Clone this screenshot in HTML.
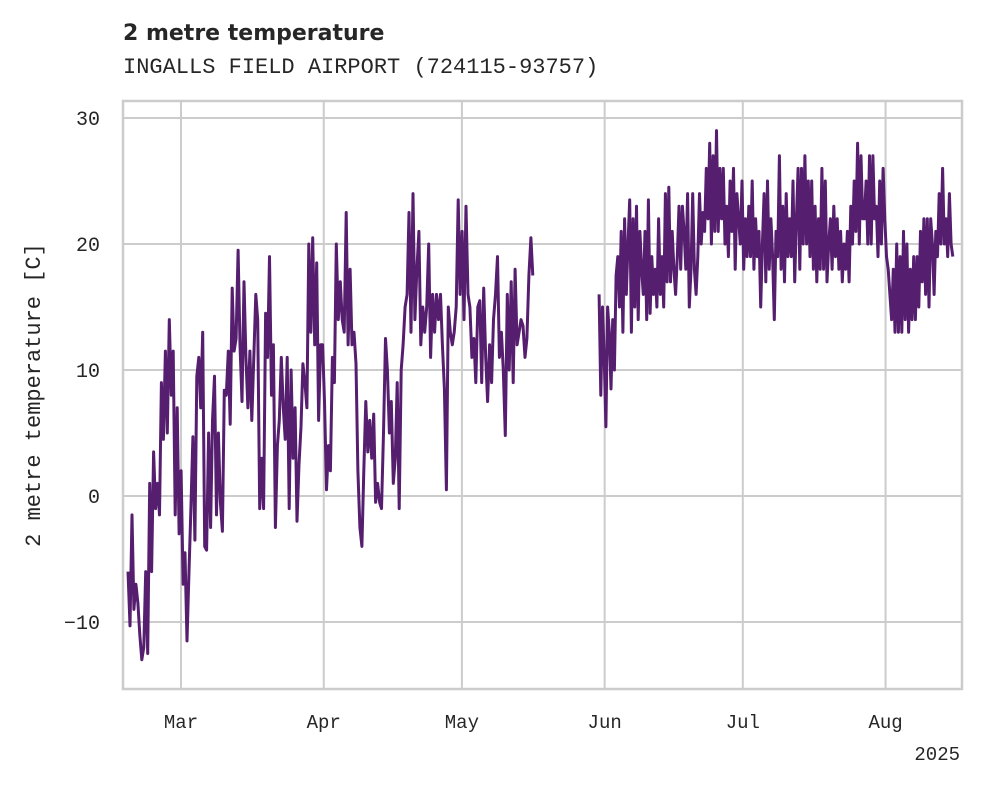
<!DOCTYPE html>
<html><head><meta charset="utf-8"><style>
body{margin:0;background:#fff;}
svg{display:block;}
</style></head><body>
<svg id="chart" width="981" height="785" xmlns="http://www.w3.org/2000/svg">
<text x="123" y="40" font-family="DejaVu Sans, Liberation Sans, sans-serif" font-weight="bold" font-size="22" fill="#262626">2 metre temperature</text>
<text x="123" y="73" font-family="Liberation Mono, DejaVu Sans Mono, monospace" font-size="22" fill="#262626">INGALLS FIELD AIRPORT (724115-93757)</text>
<g id="grid"></g>
<g id="series"></g>
<rect x="123" y="101" width="839" height="588" fill="none" stroke="#cccccc" stroke-width="2.5"/>
<g id="ticks"></g>
<text transform="translate(40,395) rotate(-90)" text-anchor="middle" font-family="Liberation Mono, DejaVu Sans Mono, monospace" font-size="22" fill="#262626">2 metre temperature [C]</text>
<text x="960" y="760" text-anchor="end" font-family="Liberation Mono, DejaVu Sans Mono, monospace" font-size="19" fill="#262626">2025</text>
</svg>
<script>
const yTicks=[30,20,10,0,-10];
const xTickLabels=["Mar","Apr","May","Jun","Jul","Aug"];
const xTickDays=[0,31,61,92,122,153];
const seg1Start=-11.5, seg1End=76.4;
const seg2Start=90.8, seg2End=167.6;
const values1=[-6,-10.3,-1.5,-9,-7,-8.5,-11,-13,-12,-6,-12.5,1,-6,3.5,-1,1,-1.5,9,4.5,11.5,5,14,8,11.5,-1.5,7,-3,2,-7,-4.5,-11.5,-6,-1,4.7,-3.5,9.5,11,7,13,-4,-4.3,5,-2.5,6,9.5,-1.5,5,-0.5,-2.8,8.4,8,11.5,5.7,16.5,11.5,12.5,19.5,12,7.5,17,11,7,11.5,6,11,16,14,-1,3,-1,14.5,11,19,8,12,-2.5,4,6,11,7,4.5,11,-1,10,3,7,-2,2.5,5.5,10.5,9,7,20,13,20.5,12,18.5,6,12,12,7.5,0.5,4,2,11,9,20,14,17,14,13,22.5,12,18,12,13,10.5,2,-2.5,-4,2,7.5,3.5,6,3,6.5,-0.5,1,-0.5,-1,5,12.5,10,5,7.5,1,3,9,-1,10,12,15,16,22.5,13,24,14,18,21,12,15,13,15,20,11,16,13,16,14,16,12,8.5,0.5,15,13,12,13,15,23.5,16,21,14,23,16,15,11,12.5,9,15,15.5,9,16.5,11,7.5,12,9,14,16,19,11,13,10,4.8,16,10,17,9,18,12,13,14,13.5,11,12.5,17.5,20.5,17.5];
const values2=[16,8,15,11,5.5,15,13,8.5,14,10,17.5,19,15,21,13,22,16,20,23.5,13,22,15,23,14,21,18,16,21,14,23.5,14.5,19,16,18,15,22,16,19,15,24,17,24.5,17,21,18,16,19,23,18,23,21,18,24,15,18,24,18,16,19,24,20,22.5,21,26,22,28,20,27,21,29,21,26,22,26,20,23,19,25,21,26,18,24,22,20,25,18,22,19,23,19,25,18,22,19,21,15,20,24,17,25,18,22,19,14,21,19,27,18,23,17,24,19,22,19,25,17,22,26,18,26,20,27,20,25,19,25,18,23,17,22,18,26,18,25,17,20,22,18,23,19,22,18,21,17,20,18,21,17,23,20,25,21,28,20,27,22,22,25,20,27,20,27,22,23,19,25,20,26,22,19,18,16,14,18,13,20,13,19,13,21,14,20,13,18,14,19,14,19,15,21,17,22,16,22,15,22,20,16,21,19,24,20,26,20,22,19,24,20,19];
const NS='http://www.w3.org/2000/svg';
const L=123,R=962,T=101,B=689;
function xScale(d){return 181+d*4.605;}
function yScale(v){return 496-v*12.6;}
const grid=document.getElementById('grid');
const ticks=document.getElementById('ticks');
yTicks.forEach(v=>{
  const ln=document.createElementNS(NS,'line');
  ln.setAttribute('x1',L);ln.setAttribute('x2',R);ln.setAttribute('y1',yScale(v));ln.setAttribute('y2',yScale(v));
  ln.setAttribute('stroke','#cccccc');ln.setAttribute('stroke-width','2');
  
  
  grid.appendChild(ln);
  const t=document.createElementNS(NS,'text');
  t.setAttribute('x',100);t.setAttribute('y',yScale(v)+7);t.setAttribute('text-anchor','end');
  t.setAttribute('font-family','Liberation Mono, DejaVu Sans Mono, monospace');t.setAttribute('font-size','20');t.setAttribute('fill','#262626');
  t.textContent=v<0?'\u2212'+Math.abs(v):String(v);
  
  
  ticks.appendChild(t);
});
xTickDays.forEach((d,i)=>{
  const x=xScale(d);
  const ln=document.createElementNS(NS,'line');
  ln.setAttribute('x1',x);ln.setAttribute('x2',x);ln.setAttribute('y1',T);ln.setAttribute('y2',B);
  ln.setAttribute('stroke','#cccccc');ln.setAttribute('stroke-width','2');
  
  
  grid.appendChild(ln);
  const t=document.createElementNS(NS,'text');
  t.setAttribute('x',x);t.setAttribute('y',728);t.setAttribute('text-anchor','middle');
  t.setAttribute('font-family','Liberation Mono, DejaVu Sans Mono, monospace');t.setAttribute('font-size','19');t.setAttribute('fill','#262626');
  t.textContent=xTickLabels[i];
  
  
  ticks.appendChild(t);
});
const series=document.getElementById('series');
function drawSeg(vals,s,e){
  const n=vals.length;
  const pts=vals.map((v,i)=>xScale(s+(e-s)*i/(n-1)).toFixed(1)+','+yScale(v).toFixed(1)).join(' ');
  const pl=document.createElementNS(NS,'polyline');
  pl.setAttribute('points',pts);pl.setAttribute('fill','none');pl.setAttribute('stroke','#561e6e');
  pl.setAttribute('stroke-width','3');pl.setAttribute('stroke-linejoin','round');
  
  
  series.appendChild(pl);
}
drawSeg(values1,seg1Start,seg1End);
drawSeg(values2,seg2Start,seg2End);
</script>
</body></html>
